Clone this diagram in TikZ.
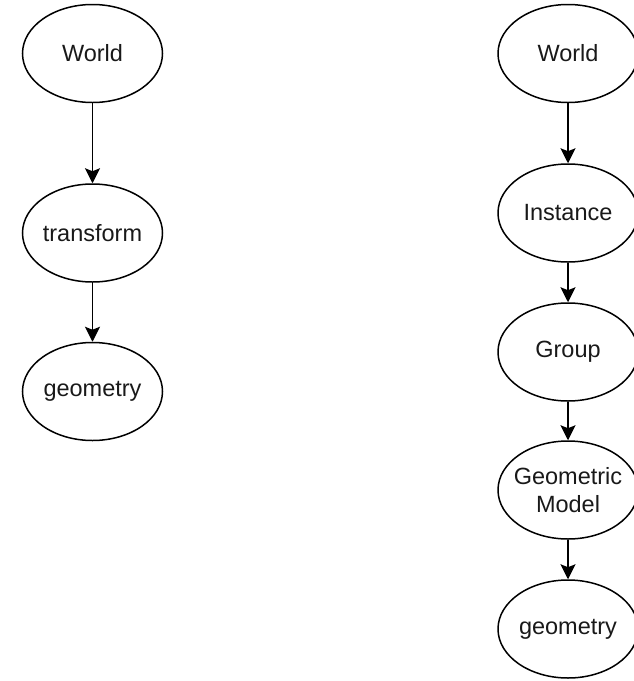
\documentclass[tikz,border=0pt]{standalone}
\usepackage{fontspec}
\setmainfont{Liberation Sans}
\usetikzlibrary{shapes.geometric,arrows.meta}
\begin{document}
\begin{tikzpicture}[x=1pt,y=-1pt,
  ell/.style={draw=black,line width=1.5pt,ellipse,minimum width=140pt,minimum height=98pt,inner sep=0pt},
  txt/.style={font=\fontsize{23.5}{28}\selectfont,align=center,text=black!90},
  conn/.style={draw=black,line width=1.5pt,-{Stealth[length=15pt,width=15pt,inset=3pt]}}]
\useasboundingbox (0,0) rectangle (633,681);
\node[ell,label={[txt]center:World}] (lw) at (92.5,53.5) {};
\node[ell,label={[txt]center:transform}] (lt) at (92.5,233) {};
\node[ell,label={[txt]center:geometry}] (lg) at (92.5,391.5) {};
\node[ell,label={[txt]center:World}] (rw) at (568,53.5) {};
\node[ell,label={[txt]center:Instance}] (ri) at (568,213) {};
\node[ell,label={[txt]center:Group}] (rgr) at (568,352) {};
\node[ell,label={[txt]center:Geometric\\Model}] (rm) at (568,490) {};
\node[ell,label={[txt]center:geometry}] (rg) at (568,629) {};
\draw[conn] (lw) -- (lt);
\draw[conn] (lt) -- (lg);
\draw[conn] (rw) -- (ri);
\draw[conn] (ri) -- (rgr);
\draw[conn] (rgr) -- (rm);
\draw[conn] (rm) -- (rg);
\end{tikzpicture}
\end{document}
